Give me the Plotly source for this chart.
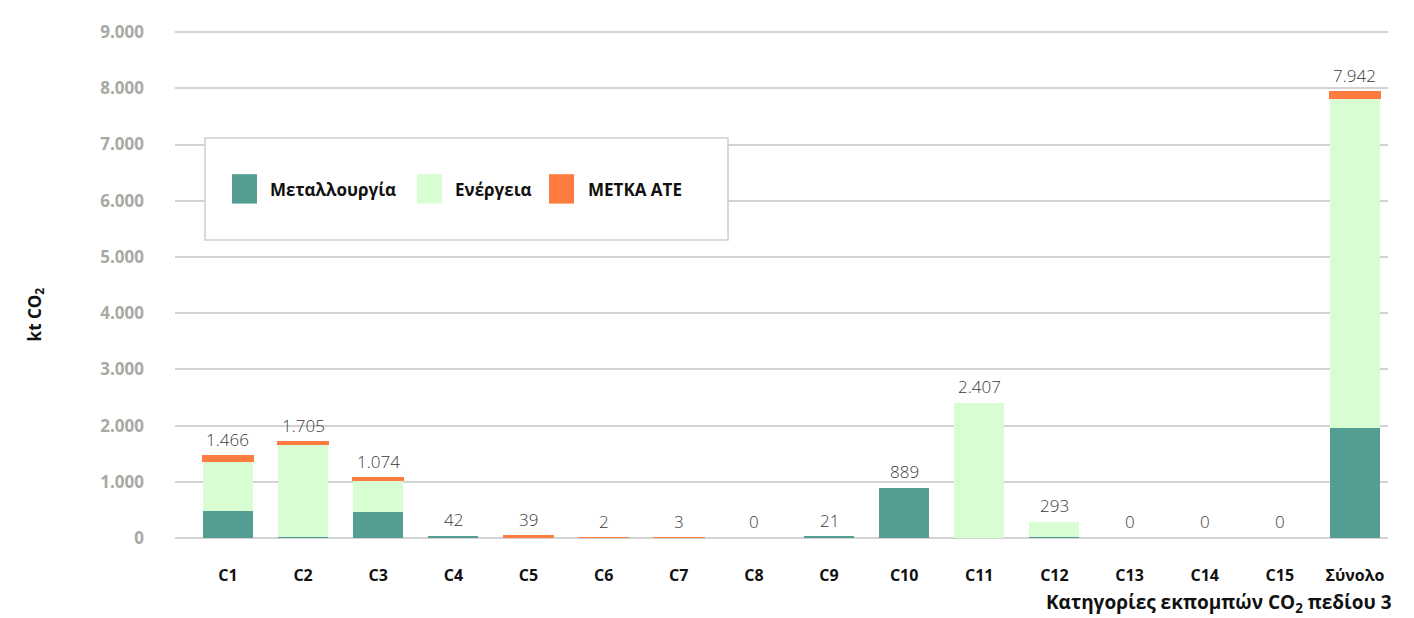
import plotly.graph_objects as go

categories = ["C1", "C2", "C3", "C4", "C5", "C6", "C7", "C8", "C9", "C10",
              "C11", "C12", "C13", "C14", "C15", "Σύνολο"]
metallourgia = [480, 20, 455, 42, 0, 0, 0, 0, 21, 889, 0, 20, 0, 0, 0, 1960]
energeia = [880, 1655, 575, 0, 0, 0, 0, 0, 0, 0, 2407, 273, 0, 0, 0, 5870]
metka = [106, 30, 44, 0, 39, 2, 3, 0, 0, 0, 0, 0, 0, 0, 0, 112]
totals = [1466, 1705, 1074, 42, 39, 2, 3, 0, 21, 889, 2407, 293, 0, 0, 0, 7942]
y_ticks = [0, 1000, 2000, 3000, 4000, 5000, 6000, 7000, 8000, 9000]

series_names = ["Μεταλλουργία", "Ενέργεια", "ΜΕΤΚΑ ΑΤΕ"]
colors = ["#549d93", "#d9fdd3", "#ff7c40"]

BOLD = "Open Sans"
OFF = 8  # page body margin
W, H = 1414 - OFF, 618 - OFF
YMAX = 9020
L, R, B = 175 - OFF, 1388 - OFF, 538 - OFF
T = round(B - (538 - 22) * YMAX / 9000)
PW, PH = R - L, B - T


def fmt(v):
    return f"{v:,}".replace(",", ".")


def px(x):
    return (x - OFF - L) / PW


def py(y):
    return (B - (y - OFF)) / PH


fig = go.Figure()
for name, vals, col in zip(series_names, [metallourgia, energeia, metka], colors):
    lw = [1.5 if (name == "ΜΕΤΚΑ ΑΤΕ" and v > 0) else 0 for v in vals]
    fig.add_trace(go.Bar(
        x=categories, y=vals, name=name,
        marker=dict(color=col, line=dict(width=lw, color=col)),
        showlegend=False,
    ))

annotations = []
# total labels above each stacked bar
for c, v in zip(categories, totals):
    annotations.append(dict(xref="x", yref="y", x=c, y=v, text=fmt(v), showarrow=False,
                            xanchor="center", yanchor="bottom", yshift=3,
                            font=dict(family="Open Sans", size=17, color="#3a3a3a", weight=300)))

# custom legend (box + swatches + labels)
shapes = [dict(type="rect", xref="paper", yref="paper",
               x0=px(205), x1=px(728), y0=py(234), y1=py(130),
               line=dict(color="#d0d0d0", width=1.5), fillcolor="white", layer="above")]
sw_x = [232, 417, 549]
tx_x = [268, 453, 586]
for i, name in enumerate(series_names):
    shapes.append(dict(type="rect", xref="paper", yref="paper",
                       x0=px(sw_x[i]), x1=px(sw_x[i] + 25),
                       y0=py(197), y1=py(167),
                       line=dict(width=0), fillcolor=colors[i], layer="above"))
    annotations.append(dict(xref="paper", yref="paper",
                            x=px(tx_x[i]), y=py(183),
                            text=name, showarrow=False, xanchor="left", yanchor="middle",
                            font=dict(family=BOLD, size=17, color="#111", weight="bold")))

annotations.append(dict(xref="paper", yref="paper", x=px(1394), y=py(604),
                        text="Κατηγορίες εκπομπών CO<sub>2</sub> πεδίου 3", showarrow=False,
                        xanchor="right", yanchor="middle",
                        font=dict(family=BOLD, size=19, color="#111", weight="bold")))
annotations.append(dict(xref="paper", yref="paper", x=px(35), y=py(310),
                        text="kt CO<sub>2</sub>", showarrow=False, textangle=-90,
                        xanchor="center", yanchor="middle",
                        font=dict(family=BOLD, size=17, color="#111", weight="bold")))

fig.update_layout(
    width=W, height=H,
    margin=dict(l=L, r=W - R, t=T, b=H - B),
    barmode="stack", bargap=0.334,
    plot_bgcolor="white", paper_bgcolor="white",
    separators=",.",
    shapes=shapes, annotations=annotations,
    xaxis=dict(type="category", range=[-0.705, 15.44], showgrid=False, zeroline=False,
               showline=False, ticks="", ticklabelstandoff=26,
               tickfont=dict(family=BOLD, size=16, color="#111", weight="bold")),
    yaxis=dict(range=[0, YMAX], tickvals=y_ticks, ticktext=[fmt(v) for v in y_ticks],
               showgrid=True, gridcolor="#d3d3d3", gridwidth=1.5, zeroline=True,
               zerolinecolor="#d3d3d3", zerolinewidth=1.5, showline=False, ticks="",
               ticklabelstandoff=30,
               tickfont=dict(family=BOLD, size=17, color="#a9a9a4", weight="bold")),
)

fig.write_html("out.html")
